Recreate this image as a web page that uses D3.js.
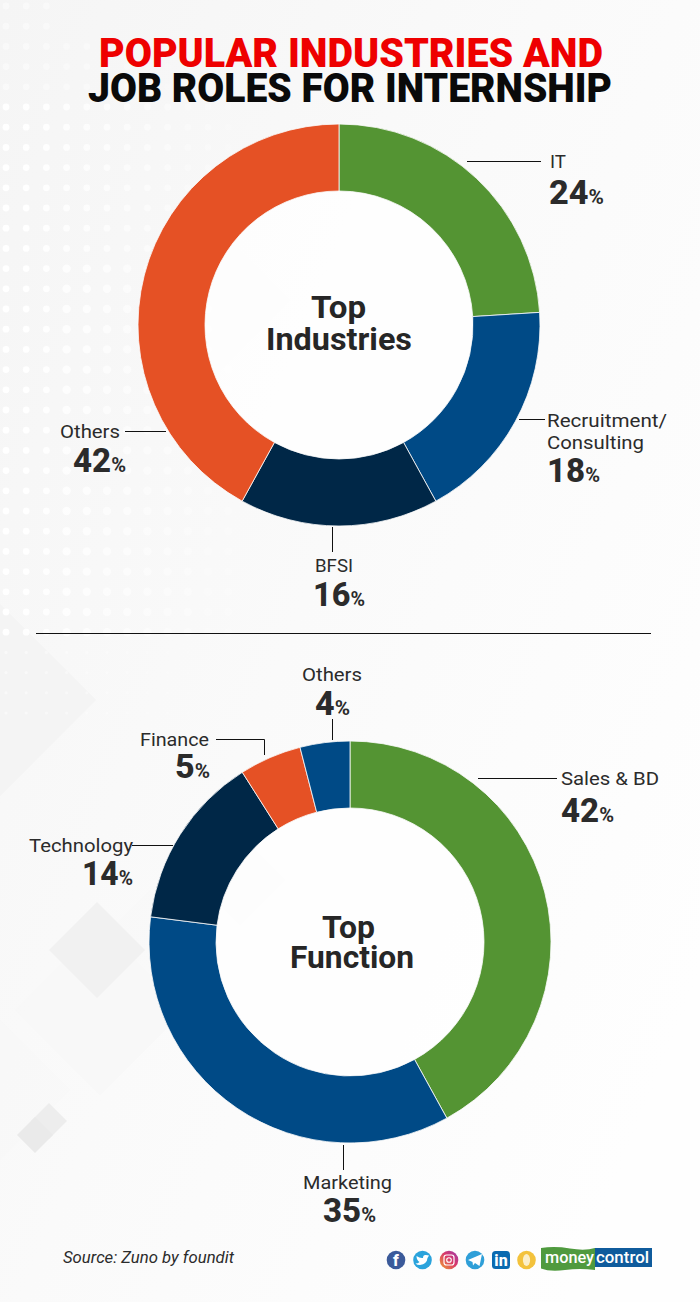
<!DOCTYPE html>
<html><head><meta charset="utf-8">
<script src="https://cdnjs.cloudflare.com/ajax/libs/d3/7.8.5/d3.min.js"></script>
<style>html,body{margin:0;padding:0;background:#fff}svg{display:block}text{font-family:Roboto,"Noto Sans",sans-serif}</style>
</head><body><div id="c"></div>
<script>
// ---- data ----
const industryLabels = ["IT", "Recruitment/\nConsulting", "BFSI", "Others"];
const industryValues = [24, 18, 16, 42];
const functionLabels = ["Sales & BD", "Marketing", "Technology", "Finance", "Others"];
const functionValues = [42, 35, 14, 5, 4];
const titleLines = ["POPULAR INDUSTRIES AND", "JOB ROLES FOR INTERNSHIP"];
const sourceText = "Source: Zuno by foundit";

// ---- layout (kept apart from the data) ----
const W = 700, H = 1302, R = 201, r = 134;
const pieA = {cx: 339, cy: 325, colors: ["#549433", "#004a86", "#002747", "#e55125"]};
const pieB = {cx: 350, cy: 942, colors: ["#549433", "#004a86", "#002747", "#e55125", "#004a86"]};
const layoutA = [
 {nx:[550,566], ny:[168], vx:[549,604], vy:204, lead:[[467,161.5],[541,161.5]]},
 {nx:[547,667], nx2:[547,644], ny:[427,449], vx:[547,600], vy:482, lead:[[519,419.5],[545,419.5]]},
 {nx:[315,353], ny:[572], vx:[313,365], vy:606, lead:[[332.5,527],[332.5,552]]},
 {nx:[60,120], ny:[438], vx:[73,126], vy:472, lead:[[125,431.5],[166,431.5]]}
];
const layoutB = [
 {nx:[561,659], ny:[785], vx:[561,614], vy:822, lead:[[478,778.5],[557,778.5]]},
 {nx:[303,392], ny:[1189], vx:[323,376], vy:1222, lead:[[343.5,1145],[343.5,1170]]},
 {nx:[29,133], ny:[852], vx:[82,133], vy:885, lead:[[132,845.5],[173,845.5]]},
 {nx:[140,209], ny:[746], vx:[175,210], vy:778, lead:[[216,739.5],[264.5,739.5],[264.5,755]]},
 {nx:[302,362], ny:[681], vx:[315,350], vy:715, lead:[[332.5,719],[332.5,740]]}
];

const svg = d3.select("#c").append("svg").attr("width", W).attr("height", H).attr("viewBox", `0 0 ${W} ${H}`);
const defs = svg.append("defs");
const bg = defs.append("linearGradient").attr("id","bg").attr("x1",0).attr("y1",0).attr("x2",1).attr("y2",0.75);
bg.append("stop").attr("offset","0%").attr("stop-color","#f5f5f5");
bg.append("stop").attr("offset","50%").attr("stop-color","#fafafa");
bg.append("stop").attr("offset","100%").attr("stop-color","#fefefe");
const ig = defs.append("linearGradient").attr("id","ig").attr("x1",0).attr("y1",1).attr("x2",1).attr("y2",0);
ig.append("stop").attr("offset","0%").attr("stop-color","#f0a030");
ig.append("stop").attr("offset","55%").attr("stop-color","#d8386a");
ig.append("stop").attr("offset","100%").attr("stop-color","#9a3db0");
svg.append("rect").attr("width",W).attr("height",H).attr("fill","url(#bg)");

// background decoration
const diamond = (cx,cy,s,fill,op) => svg.append("path")
  .attr("d",`M${cx},${cy-s}L${cx+s},${cy}L${cx},${cy+s}L${cx-s},${cy}Z`).attr("fill",fill).attr("opacity",op);
diamond(0,700,96,"#f2f2f2",.7);
diamond(100,1010,85,"#f6f6f6",.6);
diamond(150,960,70,"#f7f7f7",.5);
diamond(97,950,48,"#f0f0f0",.9);
diamond(0,1090,70,"#f8f8f8",.7);
diamond(49,1121,18,"#ededed",1);
diamond(35,1135,18,"#eaeaea",1);
diamond(215,300,75,"#f5f5f5",.5);
diamond(240,880,45,"#f1f1f1",.6);
const dots = [];
for (let y = 6; y < 720; y += 20.2) for (let x = 6; x < 340; x += 20.2) {
  const top = y < 100 ? .45 : 1;
  const fade = Math.max(0, 1 - x / 280) * top * (y > 640 ? .5 : 1);
  if (fade > .05 && !(y < 30 && x > 60)) dots.push({x, y, fade, rad: y > 640 ? 1.6 : 3.4 + (x > 60 && y > 250 ? .8 : 0)});
}
svg.append("g").selectAll("circle").data(dots).join("circle")
  .attr("cx",d=>d.x).attr("cy",d=>d.y).attr("r",d=>d.rad).attr("fill","#fff").attr("opacity",d=>d.fade);

function fit(sel, x0, x1) {
  sel.attr("x", x0).attr("textLength", x1 - x0).attr("lengthAdjust", "spacingAndGlyphs");
  return sel;
}

// title
const titleG = svg.append("g").attr("font-weight",900);
fit(titleG.append("text").text(titleLines[0]).attr("y",67).attr("font-size",41).attr("fill","#ee0000"),99,603);
fit(titleG.append("text").text(titleLines[1]).attr("y",102).attr("font-size",41).attr("fill","#0a0a0a"),88,612);

// donut
function donut(conf, values, labels, layout, center) {
  const pie = d3.pie().sort(null).value(d=>d);
  const arc = d3.arc().innerRadius(r).outerRadius(R);
  const g = svg.append("g").attr("transform",`translate(${conf.cx},${conf.cy})`);
  g.append("circle").attr("r",r).attr("fill","#fff").attr("opacity",.75);
  g.selectAll("path").data(pie(values)).join("path").attr("d",arc)
    .attr("fill",(d,i)=>conf.colors[i]).attr("stroke","#fbfbfb").attr("stroke-width",.8);
  center.forEach(c => fit(svg.append("text").text(c.t).attr("y",c.y).attr("font-size",31).attr("font-weight",700).attr("fill","#262626"),c.x[0],c.x[1]));
  const line = d3.line();
  labels.forEach((lab,i) => {
    const L = layout[i];
    svg.append("path").attr("d",line(L.lead)).attr("fill","none").attr("stroke","#111").attr("stroke-width",1);
    lab.split("\n").forEach((part,j) => {
      const ex = j === 0 ? L.nx : L.nx2;
      fit(svg.append("text").text(part).attr("y",L.ny[j]).attr("font-size",19).attr("fill","#2b2b2b"),ex[0],ex[1]);
    });
    const val = fit(svg.append("text").attr("y",L.vy).attr("fill","#2b2b2b"),L.vx[0],L.vx[1]);
    val.append("tspan").text(values[i]).attr("font-size",33).attr("font-weight",800);
    val.append("tspan").text("%").attr("font-size",20).attr("font-weight",700);
  });
}
donut(pieA, industryValues, industryLabels, layoutA, [{t:"Top",y:318,x:[311,366]},{t:"Industries",y:350,x:[266,412]}]);
donut(pieB, functionValues, functionLabels, layoutB, [{t:"Top",y:938,x:[322,375]},{t:"Function",y:968,x:[290,414]}]);

// divider
svg.append("line").attr("x1",36).attr("x2",651).attr("y1",633.5).attr("y2",633.5).attr("stroke","#111").attr("stroke-width",1);

// source
fit(svg.append("text").text(sourceText).attr("y",1263).attr("font-size",16.5).attr("font-style","italic").attr("fill","#2b2b2b"),63,234);

// footer icons
const f = svg.append("g");
const ic = (x,fill) => f.append("circle").attr("cx",x).attr("cy",1260).attr("r",9.3).attr("fill",fill);
ic(396,"#3b5a9a");
f.append("text").text("f").attr("x",396).attr("y",1266).attr("text-anchor","middle").attr("font-size",16).attr("font-weight",800).attr("fill","#fff");
ic(422.5,"#2aa3dc");
f.append("path").attr("d","M416.5,1256 Q420,1258.5 423,1258 Q423,1254.5 426,1255 L429,1255.5 L427.5,1258 Q427,1264 420,1265 Q417,1265 415.5,1263.5 Q418,1263.5 419.5,1262 Q416.5,1260 416.5,1256Z").attr("fill","#fff");
ic(449,"url(#ig)");
f.append("rect").attr("x",444).attr("y",1255).attr("width",10).attr("height",10).attr("rx",2.5).attr("fill","none").attr("stroke","#fff").attr("stroke-width",1.2);
f.append("circle").attr("cx",449).attr("cy",1260).attr("r",2.3).attr("fill","none").attr("stroke","#fff").attr("stroke-width",1.1);
ic(475,"#2f9fd8");
f.append("path").attr("d","M468,1260 L482,1254 L479.5,1266 L475,1263 L473,1265.5 L472.5,1262 Z").attr("fill","#fff");
f.append("rect").attr("x",492).attr("y",1251).attr("width",18).attr("height",18).attr("rx",3.5).attr("fill","#0b6ab0");
f.append("text").text("in").attr("x",501).attr("y",1266).attr("text-anchor","middle").attr("font-size",16).attr("font-weight",800).attr("fill","#fff");
ic(526.5,"#f3c23c");
f.append("ellipse").attr("cx",526.5).attr("cy",1260).attr("rx",3.6).attr("ry",6).attr("fill","#fbeec8");
f.append("path").attr("d","M541,1248 Q555,1246 570,1248.5 T595,1248 L595,1270 Q580,1268 565,1270 T541,1268.5 Z").attr("fill","#4f9a3e");
f.append("rect").attr("x",595).attr("y",1248).attr("width",57).attr("height",19).attr("fill","#0f5b9c");
fit(f.append("text").attr("y",1263).attr("font-size",17).attr("font-weight",500).attr("fill","#fff").text("money"),545,594);
fit(f.append("text").attr("y",1263).attr("font-size",17).attr("font-weight",500).attr("fill","#fff").text("control"),596,649);
</script></body></html>
